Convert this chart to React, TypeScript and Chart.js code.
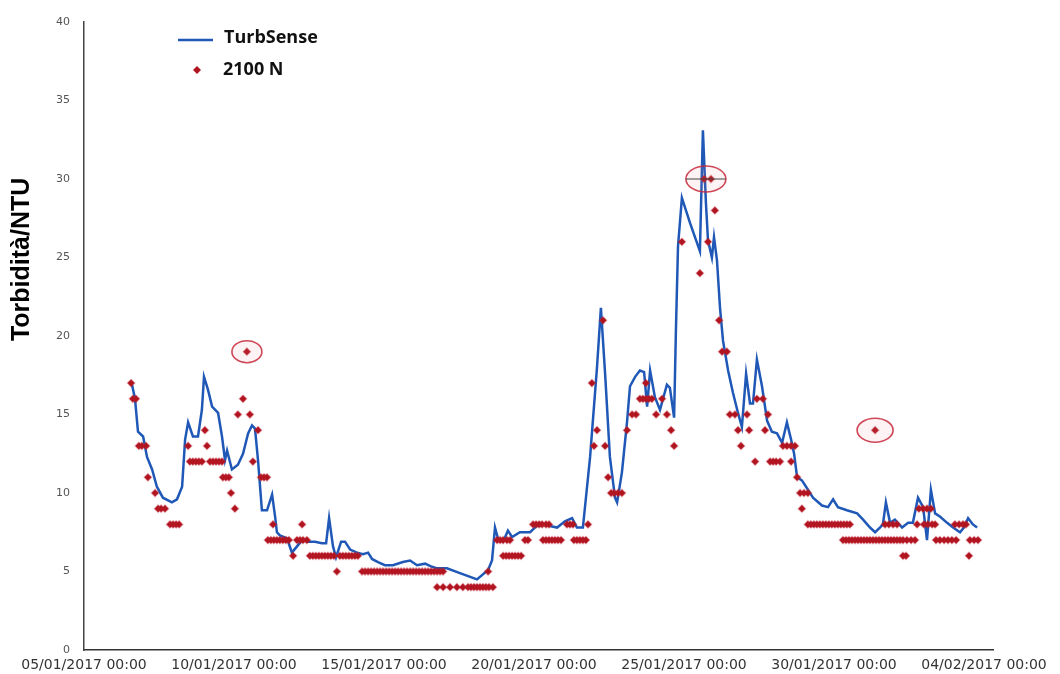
import { useEffect, useRef } from "react";
import { Chart, registerables } from "chart.js";

Chart.register(...registerables);

// Time is expressed in days elapsed since 05/01/2017 00:00.
const tickDays = [0, 5, 10, 15, 20, 25, 30];
const tickLabels = [
  "05/01/2017 00:00",
  "10/01/2017 00:00",
  "15/01/2017 00:00",
  "20/01/2017 00:00",
  "25/01/2017 00:00",
  "30/01/2017 00:00",
  "04/02/2017 00:00",
];

const yAxisTitle = "Torbidità/NTU";
const seriesNames = ["TurbSense", "2100 N"];

// Continuous TurbSense record
const turbDays = [
  1.6, 1.7, 1.8, 1.97, 2.1, 2.27, 2.43, 2.63, 2.93, 3.1, 3.27, 3.37, 3.47, 3.63, 3.8, 3.93,
  4.0, 4.13, 4.27, 4.47, 4.6, 4.7, 4.77, 4.93, 5.13, 5.3, 5.47, 5.6, 5.7, 5.8, 5.93, 6.1,
  6.27, 6.37, 6.43, 6.53, 6.77, 6.93, 7.1, 7.27, 7.47, 7.7, 7.93, 8.07, 8.17, 8.3, 8.4, 8.57,
  8.7, 8.87, 9.1, 9.3, 9.47, 9.6, 9.8, 10.03, 10.3, 10.63, 10.87, 11.1, 11.37, 11.6, 11.77,
  12.1, 12.53, 13.1, 13.47, 13.6, 13.7, 13.8, 13.97, 14.13, 14.27, 14.53, 14.87, 15.03, 15.2,
  15.53, 15.77, 16.03, 16.27, 16.43, 16.63, 16.87, 17.1, 17.23, 17.37, 17.53, 17.7, 17.77,
  17.93, 18.1, 18.2, 18.37, 18.53, 18.67, 18.77, 18.87, 19.03, 19.2, 19.43, 19.53, 19.67,
  19.73, 19.8, 19.93, 20.2, 20.53, 20.63, 20.73, 20.8, 20.93, 21.0, 21.1, 21.2, 21.3, 21.47,
  21.63, 21.8, 21.93, 22.07, 22.2, 22.3, 22.43, 22.6, 22.77, 22.93, 23.1, 23.27, 23.43, 23.57,
  23.67, 23.77, 23.93, 24.1, 24.3, 24.6, 24.8, 24.97, 25.13, 25.43, 25.77, 25.97, 26.2, 26.37,
  26.53, 26.63, 26.73, 26.87, 27.03, 27.27, 27.47, 27.63, 27.8, 27.97, 28.1, 28.23, 28.37,
  28.53, 28.77, 28.97, 29.2, 29.33, 29.47, 29.63, 29.77,
];
const turbValues = [
  16.9, 16.0, 13.9, 13.6, 12.3, 11.5, 10.4, 9.7, 9.4, 9.6, 10.4, 13.4, 14.5, 13.6, 13.6, 15.3,
  17.4, 16.6, 15.5, 15.1, 13.6, 12.1, 12.7, 11.5, 11.8, 12.5, 13.8, 14.3, 14.1, 12.1, 8.9, 8.9,
  9.9, 8.5, 7.5, 7.3, 7.1, 6.2, 6.6, 7.0, 6.9, 6.9, 6.8, 6.8, 8.4, 6.6, 5.9, 6.9,
  6.9, 6.4, 6.2, 6.1, 6.2, 5.8, 5.6, 5.4, 5.4, 5.6, 5.7, 5.4, 5.5, 5.3, 5.2,
  5.2, 4.9, 4.5, 5.1, 5.7, 7.8, 7.1, 6.9, 7.6, 7.2, 7.5, 7.5, 7.8, 8.1,
  7.9, 7.8, 8.2, 8.4, 7.8, 7.8, 12.3, 18.0, 21.8, 17.6, 12.3, 9.7, 9.4,
  11.3, 14.5, 16.8, 17.4, 17.8, 17.7, 15.5, 17.8, 16.1, 15.3, 16.9, 16.7, 14.8,
  20.3, 25.7, 28.8, 27.2, 25.4, 33.1, 28.5, 26.1, 25.0, 26.3, 24.8, 21.8, 19.7, 17.8,
  16.4, 15.1, 14.2, 17.6, 15.7, 15.7, 18.5, 16.8, 14.6, 13.9, 13.8, 13.2, 14.5, 13.4,
  12.5, 11.0, 10.8, 10.3, 9.7, 9.2, 9.1, 9.6, 9.1, 8.9, 8.7, 8.3, 7.8, 7.5,
  7.8, 8.0, 9.4, 8.1, 8.3, 7.8, 8.1, 8.1, 9.7, 9.1, 7.0, 10.2, 8.7,
  8.5, 8.1, 7.8, 7.5, 7.8, 8.4, 8.0, 7.8,
];

// Bench-top 2100 N grab readings
const labDays = [
  1.57, 1.63, 1.73, 1.83, 1.93, 2.07, 2.13, 2.37, 2.47, 2.57, 2.7, 2.87, 2.97, 3.07, 3.17,
  3.47, 3.53, 3.63, 3.73, 3.83, 3.93, 4.03, 4.1, 4.2, 4.3, 4.4, 4.5, 4.6, 4.63, 4.73, 4.83,
  4.9, 5.03, 5.13, 5.3, 5.43, 5.53, 5.63, 5.8, 5.9, 6.0, 6.1, 6.3,
  6.13, 6.23, 6.33, 6.43, 6.53, 6.63, 6.73, 6.83, 6.97, 7.1, 7.2, 7.3, 7.43, 7.27,
  7.53, 7.63, 7.73, 7.83, 7.93, 8.03, 8.13, 8.23, 8.33, 8.43,
  8.53, 8.63, 8.73, 8.83, 8.93, 9.03, 9.13,
  9.27, 9.37, 9.47, 9.57, 9.67, 9.77, 9.87, 9.97, 10.07, 10.17, 10.27, 10.37, 10.47, 10.57,
  10.67, 10.77, 10.87, 10.97, 11.07, 11.17, 11.27, 11.37, 11.47, 11.57, 11.67, 11.77, 11.87,
  11.97,
  11.77, 11.97, 12.2, 12.43, 12.63, 12.8, 12.9, 13.0, 13.1, 13.2, 13.3, 13.4, 13.5, 13.63,
  13.47,
  13.77, 13.87, 13.97, 14.1, 14.2,
  13.97, 14.07, 14.17, 14.27, 14.37, 14.47, 14.57,
  14.7, 14.8,
  14.97, 15.07, 15.17, 15.27, 15.4, 15.5,
  15.3, 15.4, 15.5, 15.6, 15.7, 15.8, 15.9,
  16.1, 16.2, 16.3,
  16.33, 16.43, 16.53, 16.63, 16.73, 16.8,
  16.93, 17.0, 17.1, 17.3, 17.37, 17.47, 17.57, 17.67, 17.8, 17.93,
  18.1, 18.27, 18.4, 18.53, 18.63, 18.73, 18.83, 18.93, 18.73, 19.07, 19.27, 19.43, 19.57,
  19.67,
  19.93, 20.53, 20.67, 20.8, 20.9, 21.03, 21.17, 21.27, 21.43, 21.53, 21.7, 21.8, 21.9,
  22.1, 22.17, 22.37, 22.43, 22.63, 22.7, 22.8, 22.87, 22.97, 23.07, 23.2,
  23.3, 23.43, 23.57, 23.7, 23.57, 23.77, 23.87, 24.0, 24.13, 23.93,
  24.13, 24.23, 24.33, 24.43, 24.53, 24.63, 24.73, 24.83, 24.93, 25.03, 25.13, 25.23, 25.33,
  25.43, 25.53,
  25.3, 25.4, 25.5, 25.6, 25.7, 25.8, 25.9, 26.0, 26.1, 26.2, 26.3, 26.4, 26.5, 26.6, 26.7,
  26.8, 26.9, 27.0, 27.1, 27.2,
  26.37, 26.7, 26.83, 26.97, 27.1,
  27.3, 27.43, 27.57, 27.7, 27.3, 27.4,
  27.77, 27.83, 27.97, 28.1, 28.23, 28.0, 28.13, 28.27, 28.37,
  28.4, 28.53, 28.67, 28.8, 28.93, 29.07,
  29.03, 29.17, 29.3, 29.4, 29.5, 29.53, 29.67, 29.8,
];
const labValues = [
  17, 16, 16, 13, 13, 13, 11, 10, 9, 9, 9, 8, 8, 8, 8,
  13, 12, 12, 12, 12, 12, 14, 13, 12, 12, 12, 12, 12, 11, 11, 11,
  10, 9, 15, 16, 19, 15, 12, 14, 11, 11, 11, 8,
  7, 7, 7, 7, 7, 7, 7, 7, 6, 7, 7, 7, 7, 8,
  6, 6, 6, 6, 6, 6, 6, 6, 6, 5,
  6, 6, 6, 6, 6, 6, 6,
  5, 5, 5, 5, 5, 5, 5, 5, 5, 5, 5, 5, 5, 5,
  5, 5, 5, 5, 5, 5, 5, 5, 5, 5, 5, 5, 5,
  5,
  4, 4, 4, 4, 4, 4, 4, 4, 4, 4, 4, 4, 4, 4,
  5,
  7, 7, 7, 7, 7,
  6, 6, 6, 6, 6, 6, 6,
  7, 7,
  8, 8, 8, 8, 8, 8,
  7, 7, 7, 7, 7, 7, 7,
  8, 8, 8,
  7, 7, 7, 7, 7, 8,
  17, 13, 14, 21, 13, 11, 10, 10, 10, 10,
  14, 15, 15, 16, 16, 16, 16, 16, 17, 15, 16, 15, 14,
  13,
  26, 24, 30, 26, 30, 28, 21, 19, 19, 15, 15, 14, 13,
  15, 14, 12, 16, 16, 14, 15, 12, 12, 12, 12,
  13, 13, 13, 13, 12, 11, 10, 10, 10, 9,
  8, 8, 8, 8, 8, 8, 8, 8, 8, 8, 8, 8, 8,
  8, 8,
  7, 7, 7, 7, 7, 7, 7, 7, 7, 7, 7, 7, 7, 7, 7,
  7, 7, 7, 7, 7,
  14, 8, 8, 8, 8,
  7, 7, 7, 7, 6, 6,
  8, 9, 9, 9, 9, 8, 8, 8, 8,
  7, 7, 7, 7, 7, 7,
  8, 8, 8, 8, 6, 7, 7, 7,
];

// Readings singled out with a ring
const ringDays = [5.43, 20.73, 26.37];
const ringValues = [19, 30, 14];

const LINE_BLUE = "#1f58b6";
const LAB_RED = "#b0151f";

const ringPlugin = {
  id: "rings",
  afterDatasetsDraw(chart: any) {
    const { ctx, scales } = chart;
    const radii = [
      [15, 11],
      [20, 13],
      [18, 12],
    ];
    ringDays.forEach((d, i) => {
      const cx = scales.x.getPixelForValue(d);
      const cy = scales.y.getPixelForValue(ringValues[i]);
      const [rx, ry] = radii[i];
      ctx.save();
      ctx.beginPath();
      ctx.ellipse(cx, cy, rx, ry, 0, 0, Math.PI * 2);
      ctx.fillStyle = "rgba(235, 140, 150, 0.10)";
      ctx.fill();
      ctx.strokeStyle = "rgba(200, 40, 60, 0.85)";
      ctx.lineWidth = 1.6;
      ctx.stroke();
      if (i === 1) {
        ctx.beginPath();
        ctx.moveTo(cx - rx, cy);
        ctx.lineTo(cx + rx, cy);
        ctx.strokeStyle = "#444";
        ctx.lineWidth = 1;
        ctx.stroke();
      }
      ctx.restore();
    });
  },
};

const legendAndTitlePlugin = {
  id: "legendAndTitle",
  afterDraw(chart: any) {
    const { ctx, chartArea } = chart;
    ctx.save();
    // legend
    const lx = chartArea.left + 94;
    ctx.strokeStyle = LINE_BLUE;
    ctx.lineWidth = 2.5;
    ctx.beginPath();
    ctx.moveTo(lx, 40);
    ctx.lineTo(lx + 35, 40);
    ctx.stroke();
    ctx.fillStyle = LAB_RED;
    ctx.beginPath();
    const dx = lx + 19;
    const dy = 70;
    ctx.moveTo(dx, dy - 4);
    ctx.lineTo(dx + 4, dy);
    ctx.lineTo(dx, dy + 4);
    ctx.lineTo(dx - 4, dy);
    ctx.closePath();
    ctx.fill();
    ctx.fillStyle = "#111";
    ctx.font = "bold 18px 'Open Sans'";
    ctx.textBaseline = "middle";
    ctx.textAlign = "left";
    ctx.fillText(seriesNames[0], lx + 46, 38);
    ctx.fillText(seriesNames[1], lx + 45, 70);
    // y-axis title
    ctx.translate(22, chartArea.top + (chartArea.bottom - chartArea.top) * 0.378);
    ctx.rotate(-Math.PI / 2);
    ctx.font = "bold 25px 'Liberation Sans'";
    ctx.fillStyle = "#000";
    ctx.textAlign = "center";
    ctx.fillText(yAxisTitle, 0, 0);
    ctx.restore();
  },
};

export default function App() {
  const canvasRef = useRef<HTMLCanvasElement | null>(null);

  useEffect(() => {
    const canvas = canvasRef.current;
    if (!canvas) return;
    const chart = new Chart(canvas, {
      type: "scatter",
      data: {
        datasets: [
          {
            label: seriesNames[0],
            data: turbDays.map((d, i) => ({ x: d, y: turbValues[i] })),
            showLine: true,
            borderColor: LINE_BLUE,
            borderWidth: 2.5,
            pointRadius: 0,
            tension: 0,
            order: 2,
          },
          {
            label: seriesNames[1],
            data: labDays.map((d, i) => ({ x: d, y: labValues[i] })),
            showLine: false,
            pointStyle: "rectRot",
            pointRadius: 3.6,
            backgroundColor: LAB_RED,
            borderColor: "rgba(190, 30, 45, 0.35)",
            borderWidth: 1.5,
            order: 1,
          },
        ],
      },
      options: {
        responsive: false,
        animation: false,
        devicePixelRatio: 1,
        layout: { padding: { top: 22, right: 67, left: 0, bottom: 0 } },
        plugins: {
          legend: { display: false },
          tooltip: { enabled: false },
        },
        scales: {
          x: {
            type: "linear",
            min: 0,
            max: 30.3,
            grid: { display: false, drawTicks: false },
            border: { display: true, color: "#333", width: 1.5 },
            afterBuildTicks: (scale: any) => {
              scale.ticks = tickDays.map((v) => ({ value: v }));
            },
            afterFit: (scale: any) => {
              scale.height = 24;
            },
            ticks: {
              autoSkip: false,
              maxRotation: 0,
              padding: 7,
              color: "#333",
              font: { family: "'DejaVu Sans'", size: 14 },
              callback: (value: any) => {
                const idx = tickDays.indexOf(Number(value));
                return idx >= 0 ? tickLabels[idx] : "";
              },
            },
          },
          y: {
            type: "linear",
            min: 0,
            max: 40,
            grid: { display: false, drawTicks: false },
            border: { display: true, color: "#444", width: 1.5 },
            afterFit: (scale: any) => {
              scale.width = 84;
            },
            ticks: {
              stepSize: 5,
              padding: 14,
              color: "#555",
              font: { family: "'DejaVu Sans'", size: 11 },
            },
          },
        },
      },
      plugins: [ringPlugin, legendAndTitlePlugin],
    });
    return () => chart.destroy();
  }, []);

  return (
    <div style={{ position: "absolute", left: 0, top: 0, width: 1060, height: 674, background: "#fff" }}>
      <canvas ref={canvasRef} width={1060} height={674} />
    </div>
  );
}
